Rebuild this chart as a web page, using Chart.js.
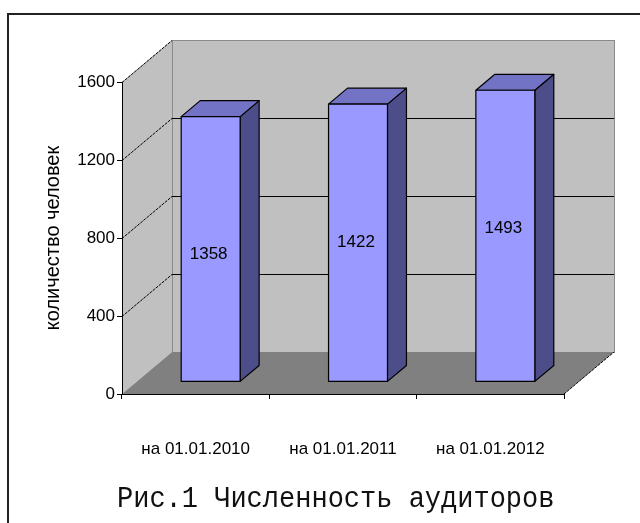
<!DOCTYPE html>
<html>
<head>
<meta charset="utf-8">
<script src="https://cdn.jsdelivr.net/npm/chart.js@4.4.0/dist/chart.umd.min.js"></script>
<style>
  html, body { margin: 0; padding: 0; background: #fff; }
  #wrap { position: relative; width: 640px; height: 523px; overflow: hidden; }
  #frame { position: absolute; left: 7px; top: 13px; width: 700px; height: 600px;
           border-left: 2px solid #222; border-top: 2px solid #222; }
  #chart { position: absolute; left: 0; top: 0; }
  #caption { position: absolute; left: 117px; top: 484px; white-space: nowrap;
             font-family: "Liberation Mono", "Courier New", monospace; font-size: 30px;
             line-height: 30px; color: #111; transform: scaleX(0.9); transform-origin: 0 0; }
</style>
</head>
<body>
<div id="wrap">
  <div id="frame"></div>
  <canvas id="chart" width="640" height="523"></canvas>
  <div id="caption">Рис.1 Численность аудиторов</div>
</div>
<script>
const categories = ["на 01.01.2010", "на 01.01.2011", "на 01.01.2012"];
const auditors = [1358, 1422, 1493];
const yTicks = [0, 400, 800, 1200, 1600];

// depth of the fake 3d box, in px at full depth
const DEPTH_X = 50;
const DEPTH_Y = -42;
// bars sit between these fractions of the depth
const BAR_FRONT = 0.3;
const BAR_BACK = 0.68;
// value labels hang this far below the bar top
const LABEL_DROP = 138;

const box3d = {
  id: "box3d",
  beforeDraw(chart) {
    const ctx = chart.ctx;
    const x = chart.scales.x;
    const y = chart.scales.y;
    const left = x.left, right = x.right;
    const y0 = y.getPixelForValue(y.min);
    const yTop = y.getPixelForValue(y.max);

    ctx.save();
    // left wall
    ctx.fillStyle = "#c0c0c0";
    ctx.beginPath();
    ctx.moveTo(left, y0);
    ctx.lineTo(left, yTop);
    ctx.lineTo(left + DEPTH_X, yTop + DEPTH_Y);
    ctx.lineTo(left + DEPTH_X, y0 + DEPTH_Y);
    ctx.closePath();
    ctx.fill();

    // back wall
    ctx.fillRect(left + DEPTH_X, yTop + DEPTH_Y, right - left, y0 - yTop);
    ctx.strokeStyle = "#8a8a8a";
    ctx.lineWidth = 1;
    ctx.strokeRect(left + DEPTH_X + 0.5, yTop + DEPTH_Y + 0.5, right - left, y0 - yTop);

    // floor
    ctx.fillStyle = "#808080";
    ctx.beginPath();
    ctx.moveTo(left, y0);
    ctx.lineTo(right, y0);
    ctx.lineTo(right + DEPTH_X, y0 + DEPTH_Y);
    ctx.lineTo(left + DEPTH_X, y0 + DEPTH_Y);
    ctx.closePath();
    ctx.fill();
    ctx.strokeStyle = "#000";
    ctx.setLineDash([3, 1]);
    ctx.beginPath();
    ctx.moveTo(right, y0);
    ctx.lineTo(right + DEPTH_X, y0 + DEPTH_Y);
    ctx.stroke();

    // grid lines: diagonals on the left wall, flat ones on the back wall
    ctx.strokeStyle = "#000";
    yTicks.forEach(function(v) {
      if (v === y.min) return;
      const py = Math.round(y.getPixelForValue(v)) + 0.5;
      ctx.setLineDash([3, 1]);
      ctx.beginPath();
      ctx.moveTo(left, py);
      ctx.lineTo(left + DEPTH_X, py + DEPTH_Y);
      ctx.stroke();
      ctx.setLineDash([]);
      if (v !== y.max) {
        ctx.beginPath();
        ctx.moveTo(left + DEPTH_X, py + DEPTH_Y);
        ctx.lineTo(right + DEPTH_X, py + DEPTH_Y);
        ctx.stroke();
      }
    });
    ctx.restore();
  },
  afterDatasetsDraw(chart) {
    const ctx = chart.ctx;
    const y = chart.scales.y;
    const meta = chart.getDatasetMeta(0);
    const values = chart.data.datasets[0].data;
    const fx = DEPTH_X * BAR_FRONT, fy = DEPTH_Y * BAR_FRONT;
    const bx = DEPTH_X * (BAR_BACK - BAR_FRONT), by = DEPTH_Y * (BAR_BACK - BAR_FRONT);

    ctx.save();
    ctx.lineWidth = 1.2;
    ctx.strokeStyle = "#000";
    ctx.lineJoin = "round";
    meta.data.forEach(function(bar, i) {
      const l = bar.x - bar.width / 2 + fx;
      const r = bar.x + bar.width / 2 + fx;
      const t = y.getPixelForValue(values[i]) + fy;
      const b = y.getPixelForValue(0) + fy;

      // side
      ctx.fillStyle = "#4d4d8a";
      ctx.beginPath();
      ctx.moveTo(r, t);
      ctx.lineTo(r + bx, t + by);
      ctx.lineTo(r + bx, b + by);
      ctx.lineTo(r, b);
      ctx.closePath();
      ctx.fill();
      ctx.stroke();

      // top
      ctx.fillStyle = "#7373c6";
      ctx.beginPath();
      ctx.moveTo(l, t);
      ctx.lineTo(l + bx, t + by);
      ctx.lineTo(r + bx, t + by);
      ctx.lineTo(r, t);
      ctx.closePath();
      ctx.fill();
      ctx.stroke();

      // front
      ctx.fillStyle = "#9999ff";
      ctx.fillRect(l, t, r - l, b - t);
      ctx.strokeRect(l, t, r - l, b - t);

      // value label
      ctx.fillStyle = "#000";
      ctx.font = '17px "Liberation Sans", Arial, sans-serif';
      ctx.textAlign = "center";
      ctx.textBaseline = "middle";
      ctx.fillText(String(values[i]), (l + r) / 2 - 2, t + LABEL_DROP);
    });
    ctx.restore();
  }
};

document.addEventListener("DOMContentLoaded", function() {
  const ctx = document.getElementById("chart");

  Chart.defaults.color = "#000";
  Chart.defaults.font.family = '"Liberation Sans", Arial, sans-serif';

  new Chart(ctx, {
    type: "bar",
    data: {
      labels: categories,
      datasets: [
        {
          label: "количество человек",
          data: auditors,
          backgroundColor: "rgba(0,0,0,0)",
          borderWidth: 0,
          barPercentage: 0.4,
          categoryPercentage: 1,
        },
      ],
    },
    options: {
      responsive: false,
      devicePixelRatio: 1,
      animation: false,
      layout: {
        padding: {top: 82, right: 76, bottom: 0, left: 0}
      },
      plugins: {
        legend: {display: false},
        tooltip: {enabled: false},
      },
      scales: {
        x: {
          ticks: {
            color: "#000",
            font: {size: 17},
            padding: 40,
          },
          grid: {
            drawOnChartArea: false,
            tickLength: 5,
            color: "#000",
          },
          border: {color: "#000", width: 1},
          afterFit: function(scale) { scale.height = 129; },
        },
        y: {
          min: 0,
          max: 1600,
          afterBuildTicks: function(scale) {
            scale.ticks = yTicks.map(function(v) { return {value: v}; });
          },
          ticks: {
            color: "#000",
            font: {size: 17},
            padding: 2,
            callback: function(value) { return String(value); },
          },
          grid: {
            drawOnChartArea: false,
            tickLength: 5,
            color: "#000",
          },
          border: {color: "#000", width: 1},
          title: {
            display: true,
            text: "количество человек",
            color: "#000",
            font: {size: 20},
            padding: {top: 41, bottom: 0},
          },
          afterFit: function(scale) { scale.width = 122; },
        },
      },
    },
    plugins: [box3d],
  });
});
</script>
</body>
</html>
